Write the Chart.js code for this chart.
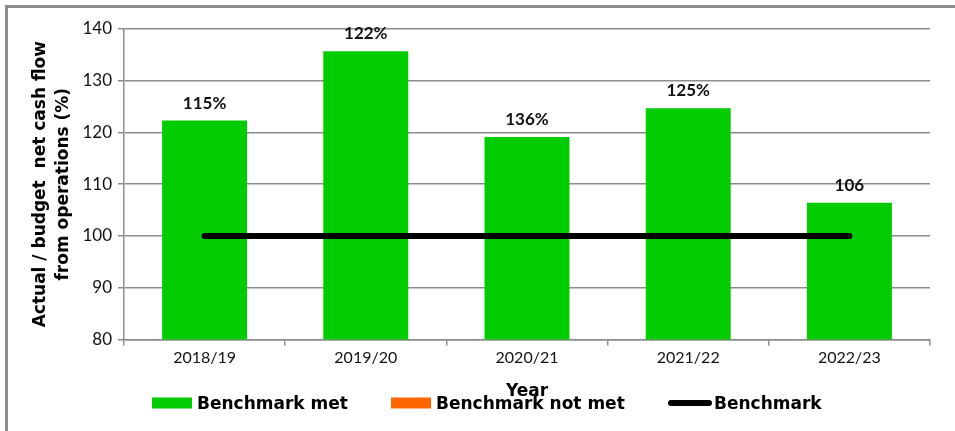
<!DOCTYPE html>
<html>
<head>
<meta charset="utf-8">
<script src="https://cdn.jsdelivr.net/npm/chart.js@4.4.0/dist/chart.umd.min.js"></script>
<style>
    body { margin: 0; background: #fff; }
    #wrap { position: relative; width: 955px; height: 431px; overflow: hidden; }
    #frame { position: absolute; left: 5px; top: 5px; width: 1000px; height: 500px; border: 3px solid #8c8c8c; }
    #chart { position: absolute; left: 0; top: 0; }
</style>
</head>
<body>
<div id="wrap">
    <div id="frame"></div>
    <canvas id="chart" width="955" height="431"></canvas>
</div>
<script>
const years = ['2018/19', '2019/20', '2020/21', '2021/22', '2022/23'];
const metValues = [122.3, 135.7, 119.1, 124.7, 106.4];
const notMetValues = [null, null, null, null, null];
const benchmark = [100, 100, 100, 100, 100];
const barLabels = ['115%', '122%', '136%', '125%', '106'];
const yTicks = [80, 90, 100, 110, 120, 130, 140];

const FONT = 'Lato, "DejaVu Sans", sans-serif';
const BOLD_FONT = '"DejaVu Sans", sans-serif';

// labels drawn above each bar
const barLabelPlugin = {
    id: 'barLabels',
    afterDatasetsDraw(chart) {
        const meta = chart.getDatasetMeta(1);
        const ctx = chart.ctx;
        ctx.save();
        ctx.font = 'bold 17px ' + FONT;
        ctx.fillStyle = '#111';
        ctx.textAlign = 'center';
        ctx.textBaseline = 'alphabetic';
        meta.data.forEach(function(bar, i) {
            ctx.fillText(barLabels[i], bar.x, bar.y - 12);
        });
        ctx.restore();
    }
};

// legend drawn by hand so it can sit over the "Year" title like the original
const legendItems = [
    { text: 'Benchmark met', color: '#00CC00', kind: 'box', x: 152 },
    { text: 'Benchmark not met', color: '#FF6600', kind: 'box', x: 391 },
    { text: 'Benchmark', color: '#000000', kind: 'line', x: 668 }
];

const bottomLegend = {
    id: 'bottomLegend',
    afterDraw(chart) {
        const ctx = chart.ctx;
        const y = 403;
        ctx.save();
        ctx.font = 'bold 17px ' + BOLD_FONT;
        ctx.fillStyle = '#000';
        ctx.textBaseline = 'alphabetic';
        legendItems.forEach(function(item) {
            let textX;
            if (item.kind === 'box') {
                ctx.fillStyle = item.color;
                ctx.fillRect(item.x, y - 5.5, 40, 11);
                textX = item.x + 45;
            } else {
                ctx.strokeStyle = item.color;
                ctx.lineWidth = 6;
                ctx.lineCap = 'round';
                ctx.beginPath();
                ctx.moveTo(item.x + 3, y);
                ctx.lineTo(item.x + 41, y);
                ctx.stroke();
                textX = item.x + 46;
            }
            ctx.fillStyle = '#000';
            ctx.fillText(item.text, textX, y + 6);
        });
        ctx.restore();
    }
};

const ctx = document.getElementById('chart').getContext('2d');

new Chart(ctx, {
    data: {
        labels: years,
        datasets: [
            {
                type: 'line',
                label: 'Benchmark',
                data: benchmark,
                borderColor: '#000',
                backgroundColor: '#000',
                borderWidth: 6,
                borderCapStyle: 'round',
                pointRadius: 0,
                order: 0
            },
            {
                type: 'bar',
                label: 'Benchmark met',
                data: metValues,
                backgroundColor: '#00CC00',
                categoryPercentage: 1,
                barPercentage: 0.527,
                grouped: false,
                order: 1
            },
            {
                type: 'bar',
                label: 'Benchmark not met',
                data: notMetValues,
                backgroundColor: '#FF6600',
                categoryPercentage: 1,
                barPercentage: 0.527,
                grouped: false,
                order: 2
            }
        ]
    },
    options: {
        responsive: false,
        animation: false,
        layout: { padding: { left: 30, right: 25, top: 29, bottom: 29 } },
        scales: {
            x: {
                offset: true,
                grid: { display: true, drawOnChartArea: false, drawTicks: true, tickLength: 6, color: '#8c8c8c', lineWidth: 1.5, offset: true },
                border: { color: '#8c8c8c', width: 1.5 },
                ticks: { color: '#111', font: { family: FONT, size: 16 }, padding: 3 },
                title: { display: true, text: 'Year', color: '#000', font: { family: BOLD_FONT, size: 17, weight: 'bold', lineHeight: 1.2 }, padding: { top: 11, bottom: 0 } }
            },
            y: {
                min: 80,
                max: 140,
                afterBuildTicks(scale) {
                    scale.ticks = yTicks.map(v => ({ value: v }));
                },
                afterFit(scale) {
                    scale.width = 94;
                },
                grid: { color: '#8c8c8c', lineWidth: 1.5, tickLength: 6 },
                border: { color: '#8c8c8c', width: 1.5 },
                ticks: { color: '#111', font: { family: FONT, size: 17 }, padding: 6 },
                title: {
                    display: true,
                    text: ['Actual / budget  net cash flow', 'from operations (%)'],
                    color: '#000',
                    font: { family: BOLD_FONT, size: 17, weight: 'bold', lineHeight: 1.3 },
                    padding: { top: 0, bottom: 4 }
                }
            }
        },
        plugins: {
            legend: { display: false },
            tooltip: { enabled: false }
        }
    },
    plugins: [barLabelPlugin, bottomLegend]
});
</script>
</body>
</html>
